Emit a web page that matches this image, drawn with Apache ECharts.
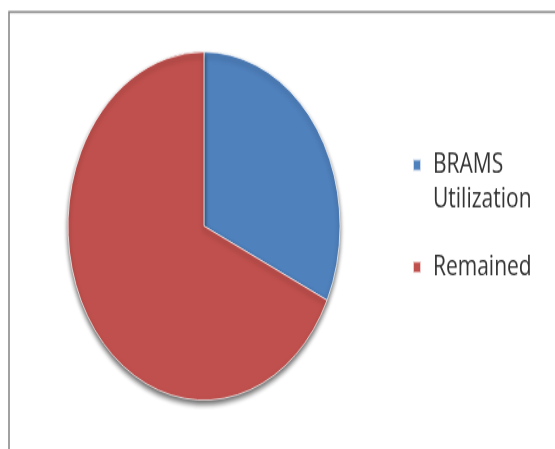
<!DOCTYPE html>
<html>
<head>
<meta charset="utf-8">
<script src="https://cdn.jsdelivr.net/npm/echarts@6/dist/echarts.min.js"></script>
<style>
  html, body { margin: 0; padding: 0; background: #fff; width: 555px; height: 449px; overflow: hidden; }
  /* the source picture is stretched vertically, so the chart is drawn flat and scaled */
  #chart { width: 555px; height: 351px; transform: scaleY(1.28); transform-origin: 0 0; }
</style>
</head>
<body>
<div id="chart"></div>
<script>
const categories = ['BRAMS Utilization', 'Remained'];
const values = [32, 68];
const colors = ['#4F81BD', '#C0504D'];

const chart = echarts.init(document.getElementById('chart'));

const legendText = { fontFamily: 'Open Sans', fontSize: 21, lineHeight: 27.3, color: '#333', padding: [0, 0, 0, 7] };

chart.setOption({
  animation: false,
  color: colors,
  graphic: [{
    type: 'rect',
    shape: { x: 9, y: 9.4, width: 620, height: 420 },
    style: { fill: 'none', stroke: '#8a8a8a', lineWidth: 1.6 },
    silent: true
  }],
  legend: [
    {
      orient: 'vertical', left: 412, top: 88, padding: 0,
      itemWidth: 8, itemHeight: 9, icon: 'rect',
      // empty first line keeps the marker beside "BRAMS"
      formatter: n => '\n' + n.replace(' ', '\n'),
      textStyle: legendText,
      data: [categories[0]]
    },
    {
      orient: 'vertical', left: 412, top: 195, padding: 0,
      itemWidth: 8, itemHeight: 9, icon: 'rect',
      textStyle: legendText,
      data: [categories[1]]
    }
  ],
  series: [{
    type: 'pie',
    center: [204, 176.6],
    radius: 136,
    startAngle: 90,
    clockwise: true,
    label: { show: false },
    labelLine: { show: false },
    itemStyle: {
      borderColor: 'rgba(255,255,255,0.7)', borderWidth: 1,
      shadowColor: 'rgba(0,0,0,0.6)', shadowBlur: 4, shadowOffsetY: 3
    },
    data: categories.map((c, i) => ({ name: c, value: values[i] }))
  }]
});
</script>
</body>
</html>
